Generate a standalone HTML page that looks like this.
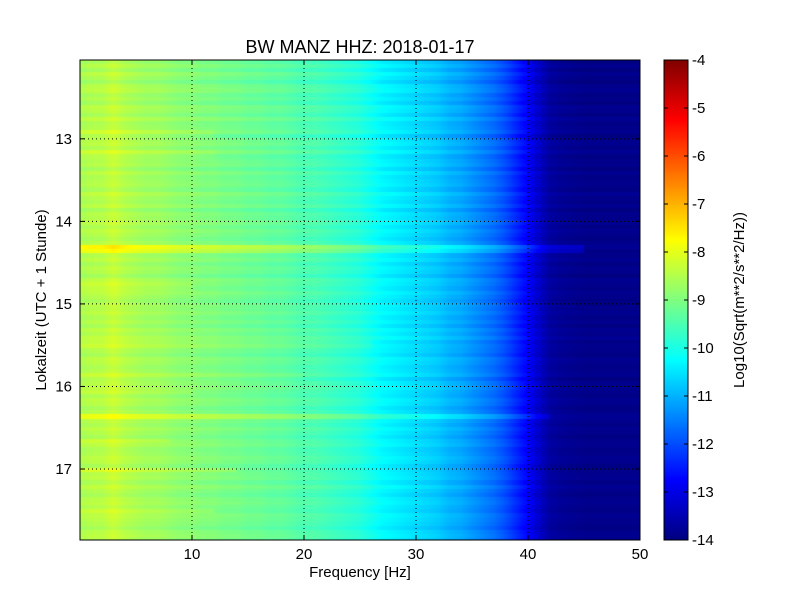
<!DOCTYPE html>
<html><head><meta charset="utf-8"><style>
body{margin:0;background:#fff;}
#wrap{position:relative;width:800px;height:600px;font-family:"Liberation Sans",sans-serif;}
</style></head><body>
<div id="wrap">
<canvas id="hm" width="560" height="480" style="position:absolute;left:80px;top:60px"></canvas>
<canvas id="cb" width="24" height="480" style="position:absolute;left:664px;top:60px"></canvas>
<svg id="ov" width="800" height="600" style="position:absolute;left:0;top:0" font-family="Liberation Sans, sans-serif"></svg>
</div>
<script>
// frequency profile (log10 PSD) at 0..50 Hz
const freqs=[0,1,2,3,4,5,6,7,8,9,10,11,12,13,14,15,16,17,18,19,20,21,22,23,24,25,26,27,28,29,30,31,32,33,34,35,36,37,38,39,40,41,42,43,44,45,46,47,48,49,50];
const profile=[-8.6,-8.5,-8.5,-8.3,-8.5,-8.6,-8.7,-8.7,-8.8,-8.9,-8.9,-9.0,-9.0,-9.1,-9.1,-9.2,-9.2,-9.3,-9.3,-9.4,-9.5,-9.5,-9.6,-9.7,-9.8,-9.9,-10.1,-10.3,-10.4,-10.5,-10.6,-10.7,-10.8,-11.0,-11.1,-11.3,-11.5,-11.7,-12.0,-12.4,-12.8,-13.3,-13.7,-13.8,-13.85,-13.9,-13.9,-13.9,-13.9,-13.9,-13.9];
// per-row offsets (rows of 0.05 h starting 12.045)
const rowOffsets=[-0.1,0.05,-0.15,0.1,-0.05,-0.2,0.05,0.1,-0.1,0.0,-0.15,0.1,0.05,-0.1,0.15,-0.05,0.0,0.1,-0.2,0.05,
0.1,-0.05,0.15,-0.1,0.0,0.05,-0.15,0.1,-0.05,0.0,0.05,-0.1,0.15,0.0,-0.05,0.1,-0.15,0.05,0.0,0.1,
-0.05,0.1,0.0,-0.1,0.05,0.15,-0.05,0.0,0.1,-0.1,0.05,0.0,-0.15,0.1,0.05,-0.05,0.1,0.0,-0.1,0.05,
0.0,0.1,-0.05,0.05,-0.1,0.1,0.0,0.15,-0.05,0.05,0.0,-0.1,0.1,0.05,-0.05,0.0,0.1,-0.15,0.05,0.1,
0.0,-0.05,0.1,0.05,-0.1,0.0,0.15,0.05,-0.05,0.1,0.0,-0.1,0.05,0.1,-0.05,0.0,0.1,0.05,-0.1,0.0,
0.05,0.1,-0.05,0.15,0.0,-0.1,0.05,0.1,0.0,-0.05,0.1,0.05,0.0,-0.1,0.05,0.1,0.0];
// transient events: [time (h), boost, max freq]
const eventTimes=[14.35,16.35,17.0,17.5,15.5,16.05,12.95,16.65,14.8,13.2,15.9];
const eventBoost=[0.7,0.45,0.4,0.3,0.2,0.2,0.2,0.2,0.2,0.15,0.15];
const eventFmax=[45,42,14,12,26,10,12,8,10,12,20];
const xTicks=[10,20,30,40,50];
const yTicks=[13,14,15,16,17];
const cbTicks=[-4,-5,-6,-7,-8,-9,-10,-11,-12,-13,-14];

const X0=80,X1=640,Y0=60,Y1=540,T0=12.045,T1=17.86,F0=0,F1=50,V0=-14,V1=-4;
const xs=f=>X0+(f-F0)/(F1-F0)*(X1-X0);
const ys=t=>Y0+(t-T0)/(T1-T0)*(Y1-Y0);
function jet(v){let t=Math.max(0,Math.min(1,(v-V0)/(V1-V0)));
 const c=(a)=>Math.max(0,Math.min(1,a));
 let r=c(Math.min(4*t-1.5,-4*t+4.5)),g=c(Math.min(4*t-0.5,-4*t+3.5)),b=c(Math.min(4*t+0.5,-4*t+2.5));
 return `rgb(${Math.round(r*255)},${Math.round(g*255)},${Math.round(b*255)})`;}
function prof(f){const i=Math.min(freqs.length-2,Math.floor(f));const a=f-i;return profile[i]*(1-a)+profile[i+1]*a;}

const hm=document.getElementById('hm').getContext('2d');
const dt=0.05;
for(let r=0;r<rowOffsets.length;r++){
 const t=T0+r*dt;
 const ya=ys(t)-Y0, yb=ys(t+dt)-Y0;
 for(let px=0;px<560;px+=2){
  const f=(px+1)/560*50;
  let v=prof(f)+rowOffsets[r]*(f<41?1:0.6);
  for(let e=0;e<eventTimes.length;e++){
   if(Math.abs(eventTimes[e]-(t+dt/2))<dt*0.6 && f<eventFmax[e]) v+=eventBoost[e]*(1-0.3*f/eventFmax[e]);
  }
  hm.fillStyle=jet(v);hm.fillRect(px,Math.floor(ya),2,Math.ceil(yb-ya)+1);
 }
}
const cb=document.getElementById('cb').getContext('2d');
for(let y=0;y<480;y++){cb.fillStyle=jet(V1-(y+0.5)/480*(V1-V0));cb.fillRect(0,y,24,1);}

const ov=document.getElementById('ov');
let s='';
s+=`<text x="360" y="53" font-size="18" text-anchor="middle">BW MANZ HHZ: 2018-01-17</text>`;
xTicks.forEach(v=>{const x=xs(v);
 if(v<50) s+=`<line x1="${x}" y1="${Y0}" x2="${x}" y2="${Y1}" stroke="#000" stroke-dasharray="1,3"/>`;
 s+=`<line x1="${x}" y1="${Y1}" x2="${x}" y2="${Y1-5}" stroke="#000"/><line x1="${x}" y1="${Y0}" x2="${x}" y2="${Y0+5}" stroke="#000"/>`;
 s+=`<text x="${x}" y="${Y1+19}" font-size="15" text-anchor="middle">${v}</text>`;});
yTicks.forEach(v=>{const y=ys(v);
 s+=`<line x1="${X0}" y1="${y}" x2="${X1}" y2="${y}" stroke="#000" stroke-dasharray="1,3"/>`;
 s+=`<line x1="${X0}" y1="${y}" x2="${X0+5}" y2="${y}" stroke="#000"/><line x1="${X1}" y1="${y}" x2="${X1-5}" y2="${y}" stroke="#000"/>`;
 s+=`<text x="${X0-8}" y="${y+5}" font-size="15" text-anchor="end">${v}</text>`;});
s+=`<rect x="${X0}" y="${Y0}" width="${X1-X0}" height="${Y1-Y0}" fill="none" stroke="#000"/>`;
s+=`<text x="360" y="577" font-size="15" text-anchor="middle">Frequency [Hz]</text>`;
s+=`<text transform="translate(46,300) rotate(-90)" font-size="15" text-anchor="middle">Lokalzeit (UTC + 1 Stunde)</text>`;
cbTicks.forEach(v=>{const y=Y0+(V1-v)/(V1-V0)*480;
 s+=`<line x1="688" y1="${y}" x2="684" y2="${y}" stroke="#000"/><line x1="664" y1="${y}" x2="668" y2="${y}" stroke="#000"/>`;
 s+=`<text x="692" y="${y+5}" font-size="15">${v}</text>`;});
s+=`<rect x="664" y="60" width="24" height="480" fill="none" stroke="#000"/>`;
s+=`<text transform="translate(744,300) rotate(-90)" font-size="15" text-anchor="middle">Log10(Sqrt(m**2/s**2/Hz))</text>`;
ov.innerHTML=s;
</script>
</body></html>
